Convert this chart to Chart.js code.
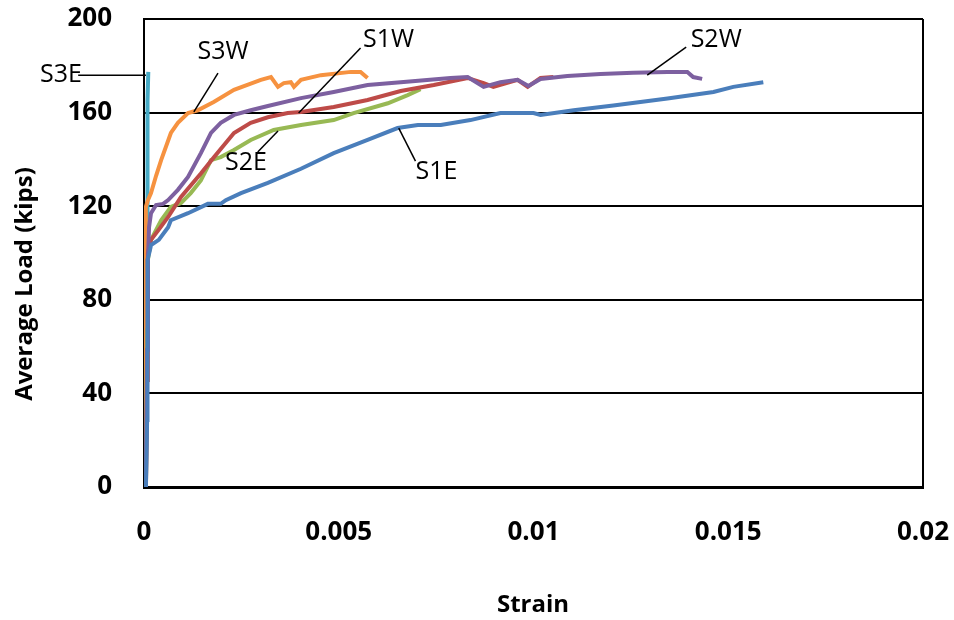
<!DOCTYPE html>
<html>
<head>
<meta charset="utf-8">
<script src="https://cdn.jsdelivr.net/npm/chart.js@4.4.1/dist/chart.umd.min.js"></script>
<style>
  body { margin: 0; background: #fff; }
  #wrap { width: 954px; height: 620px; }
</style>
</head>
<body>
<div id="wrap"><canvas id="loadChart"></canvas></div>
<script>
// strain / load readings per gauge
const s1eStrain = [0.00005, 0.00008, 0.00008, 0.0001, 0.00015, 0.00018, 0.00038, 0.00062, 0.00069, 0.00113, 0.00164, 0.00197, 0.0021, 0.00249, 0.00318, 0.00403, 0.00487, 0.00574, 0.00651, 0.00703, 0.00762, 0.00838, 0.00915, 0.01, 0.01018, 0.01103, 0.01205, 0.01344, 0.01462, 0.01513, 0.0159];
const s1eLoad   = [0, 28.6, 67, 97, 101, 103.4, 105.6, 111, 114, 117, 121, 121, 122.6, 125.6, 130, 136, 142.7, 148.3, 153.4, 154.7, 154.7, 156.8, 159.8, 159.8, 159, 161, 163, 166, 168.8, 171, 173];

const s1wStrain = [0.00005, 0.00008, 0.0001, 0.0001, 0.00018, 0.00038, 0.00062, 0.00095, 0.00146, 0.0018, 0.00231, 0.00274, 0.00318, 0.00369, 0.00403, 0.00487, 0.00574, 0.00659, 0.00744, 0.00831, 0.00872, 0.00897, 0.00959, 0.00985, 0.01018, 0.01051];
const s1wLoad   = [0, 45.7, 80, 100, 105.6, 110, 115.4, 124, 134, 141, 151.3, 155.6, 158, 159.8, 160.3, 162.4, 165.4, 169.2, 171.8, 174.8, 172.6, 171, 174, 171, 174.8, 175.2];

const s2eStrain = [0.00005, 0.00008, 0.0001, 0.00018, 0.00044, 0.00069, 0.00095, 0.0012, 0.00146, 0.00172, 0.00197, 0.00231, 0.00274, 0.00333, 0.00403, 0.00487, 0.00538, 0.00626, 0.00677, 0.0071];
const s2eLoad   = [0, 67, 97, 105.6, 114, 119.7, 121.4, 125.6, 131, 139.7, 141, 144, 148.3, 152.6, 154.7, 156.8, 159.8, 164, 167.5, 170];

const s2wStrain = [0.00005, 0.00008, 0.0001, 0.00013, 0.00018, 0.00031, 0.00049, 0.00062, 0.00087, 0.00113, 0.00146, 0.00172, 0.00197, 0.00231, 0.00274, 0.00318, 0.00403, 0.00487, 0.00574, 0.00659, 0.00787, 0.00831, 0.00872, 0.00915, 0.00959, 0.00987, 0.01018, 0.01087, 0.01172, 0.01256, 0.01344, 0.01395, 0.0141, 0.01433];
const s2wLoad   = [0, 58.5, 97, 111, 117, 120.5, 121, 122.6, 127, 132.5, 142.7, 151.3, 155.6, 159, 161, 162.8, 166.2, 168.8, 171.8, 173, 174.8, 175.2, 171, 173, 174, 171.4, 174.4, 175.6, 176.5, 177, 177.4, 177.4, 175.2, 174.4];

const s3wStrain = [0.00004, 0.00004, 0.00005, 0.00005, 0.0001, 0.00018, 0.00031, 0.00044, 0.00069, 0.00087, 0.00113, 0.00138, 0.00179, 0.00231, 0.003, 0.00326, 0.00344, 0.00359, 0.00377, 0.00385, 0.00403, 0.00454, 0.00531, 0.00556, 0.00574];
const s3wLoad   = [0, 80, 110, 119.7, 122.6, 125.6, 133, 139.7, 151.3, 155.6, 159.8, 161, 164.5, 169.7, 174, 175.2, 171, 172.6, 173, 171, 174, 176, 177.4, 177.4, 174.8];

const s3eStrain = [0.00005, 0.00008, 0.00008, 0.0001, 0.00011];
const s3eLoad   = [0, 80, 144, 165, 177.4];

const seriesNames  = ["S1E", "S2W", "S1W", "S2E", "S3W", "S3E"];
const seriesColors = ["#4A7EBB", "#7D60A0", "#BE4B48", "#98B954", "#F69240", "#46AAC5"];
const seriesStrain = [s1eStrain, s2wStrain, s1wStrain, s2eStrain, s3wStrain, s3eStrain];
const seriesLoad   = [s1eLoad, s2wLoad, s1wLoad, s2eLoad, s3wLoad, s3eLoad];

const xTickLabels = ["0", "0.005", "0.01", "0.015", "0.02"];

// callout labels (text position + leader line, in strain/load units)
const noteText  = ["S3E", "S3W", "S1W", "S2E", "S1E", "S2W"];
const noteX     = [-0.00213, 0.00203, 0.00628, 0.00262, 0.00751, 0.01469];
const noteY     = [176, 185.9, 191, 138.5, 134.6, 191];
const noteLineX1 = [-0.00169, 0.00190, 0.00556, 0.00292, 0.00697, 0.01392];
const noteLineY1 = [176, 176.9, 187.6, 143.2, 139.3, 188];
const noteLineX2 = [0.00005, 0.00128, 0.00397, 0.00344, 0.00654, 0.01292];
const noteLineY2 = [176, 160.3, 159.8, 152.1, 153.4, 176];

const datasets = seriesNames.map((name, i) => ({
  label: name,
  data: seriesStrain[i].map((x, j) => ({ x: x, y: seriesLoad[i][j] })),
  borderColor: seriesColors[i],
  backgroundColor: seriesColors[i],
  borderWidth: 4,
  pointRadius: 0,
  showLine: true,
  fill: false,
  tension: 0
}));

// titles and callouts
const extrasPlugin = {
  id: "extras",
  afterDraw(chart) {
    const ctx = chart.ctx;
    const xs = chart.scales.x, ys = chart.scales.y;
    ctx.save();
    ctx.fillStyle = "#000";
    ctx.font = "bold 24px 'Open Sans'";
    ctx.textAlign = "center";
    ctx.textBaseline = "middle";
    ctx.fillText("Strain", 533, 605);
    ctx.translate(25, 284);
    ctx.rotate(-Math.PI / 2);
    ctx.fillText("Average Load (kips)", 0, 0);
    ctx.restore();

    ctx.save();
    ctx.strokeStyle = "#000";
    ctx.lineWidth = 1.5;
    ctx.fillStyle = "#000";
    ctx.font = "25px 'Open Sans'";
    ctx.textAlign = "center";
    ctx.textBaseline = "middle";
    noteText.forEach((t, i) => {
      ctx.beginPath();
      ctx.moveTo(xs.getPixelForValue(noteLineX1[i]), ys.getPixelForValue(noteLineY1[i]));
      ctx.lineTo(xs.getPixelForValue(noteLineX2[i]), ys.getPixelForValue(noteLineY2[i]));
      ctx.stroke();
      ctx.fillText(t, xs.getPixelForValue(noteX[i]), ys.getPixelForValue(noteY[i]));
    });
    ctx.restore();
  }
};

// no extra room for overhanging tick labels
function noOverhang(s) {
  s.paddingTop = 0;
  s.paddingBottom = 0;
  s.paddingLeft = 0;
  s.paddingRight = 0;
}

new Chart(document.getElementById("loadChart"), {
  type: "scatter",
  data: { datasets },
  plugins: [extrasPlugin],
  options: {
    responsive: true,
    maintainAspectRatio: false,
    animation: false,
    layout: { padding: { top: 19, right: 31, left: 0, bottom: 0 } },
    plugins: { legend: { display: false }, tooltip: { enabled: false } },
    scales: {
      x: {
        type: "linear",
        min: 0,
        max: 0.02,
        ticks: {
          stepSize: 0.005,
          color: "#000",
          font: { family: "'Open Sans'", weight: "bold", size: 26 },
          padding: 30,
          maxRotation: 0,
          callback: (v, i) => xTickLabels[i]
        },
        grid: {
          drawTicks: false,
          color: c => (c.index === 4 ? "#000" : "rgba(0,0,0,0)"),
          lineWidth: 2
        },
        border: { color: "#000", width: 3 },
        afterFit: s => { s.height = 133; noOverhang(s); }
      },
      y: {
        min: 0,
        max: 200,
        ticks: {
          stepSize: 40,
          color: "#000",
          font: { family: "'Open Sans'", weight: "bold", size: 26 },
          padding: 32
        },
        grid: { drawTicks: false, color: "#000", lineWidth: 2 },
        border: { color: "#000", width: 2 },
        afterFit: s => { s.width = 144; noOverhang(s); }
      }
    }
  }
});
</script>
</body>
</html>
